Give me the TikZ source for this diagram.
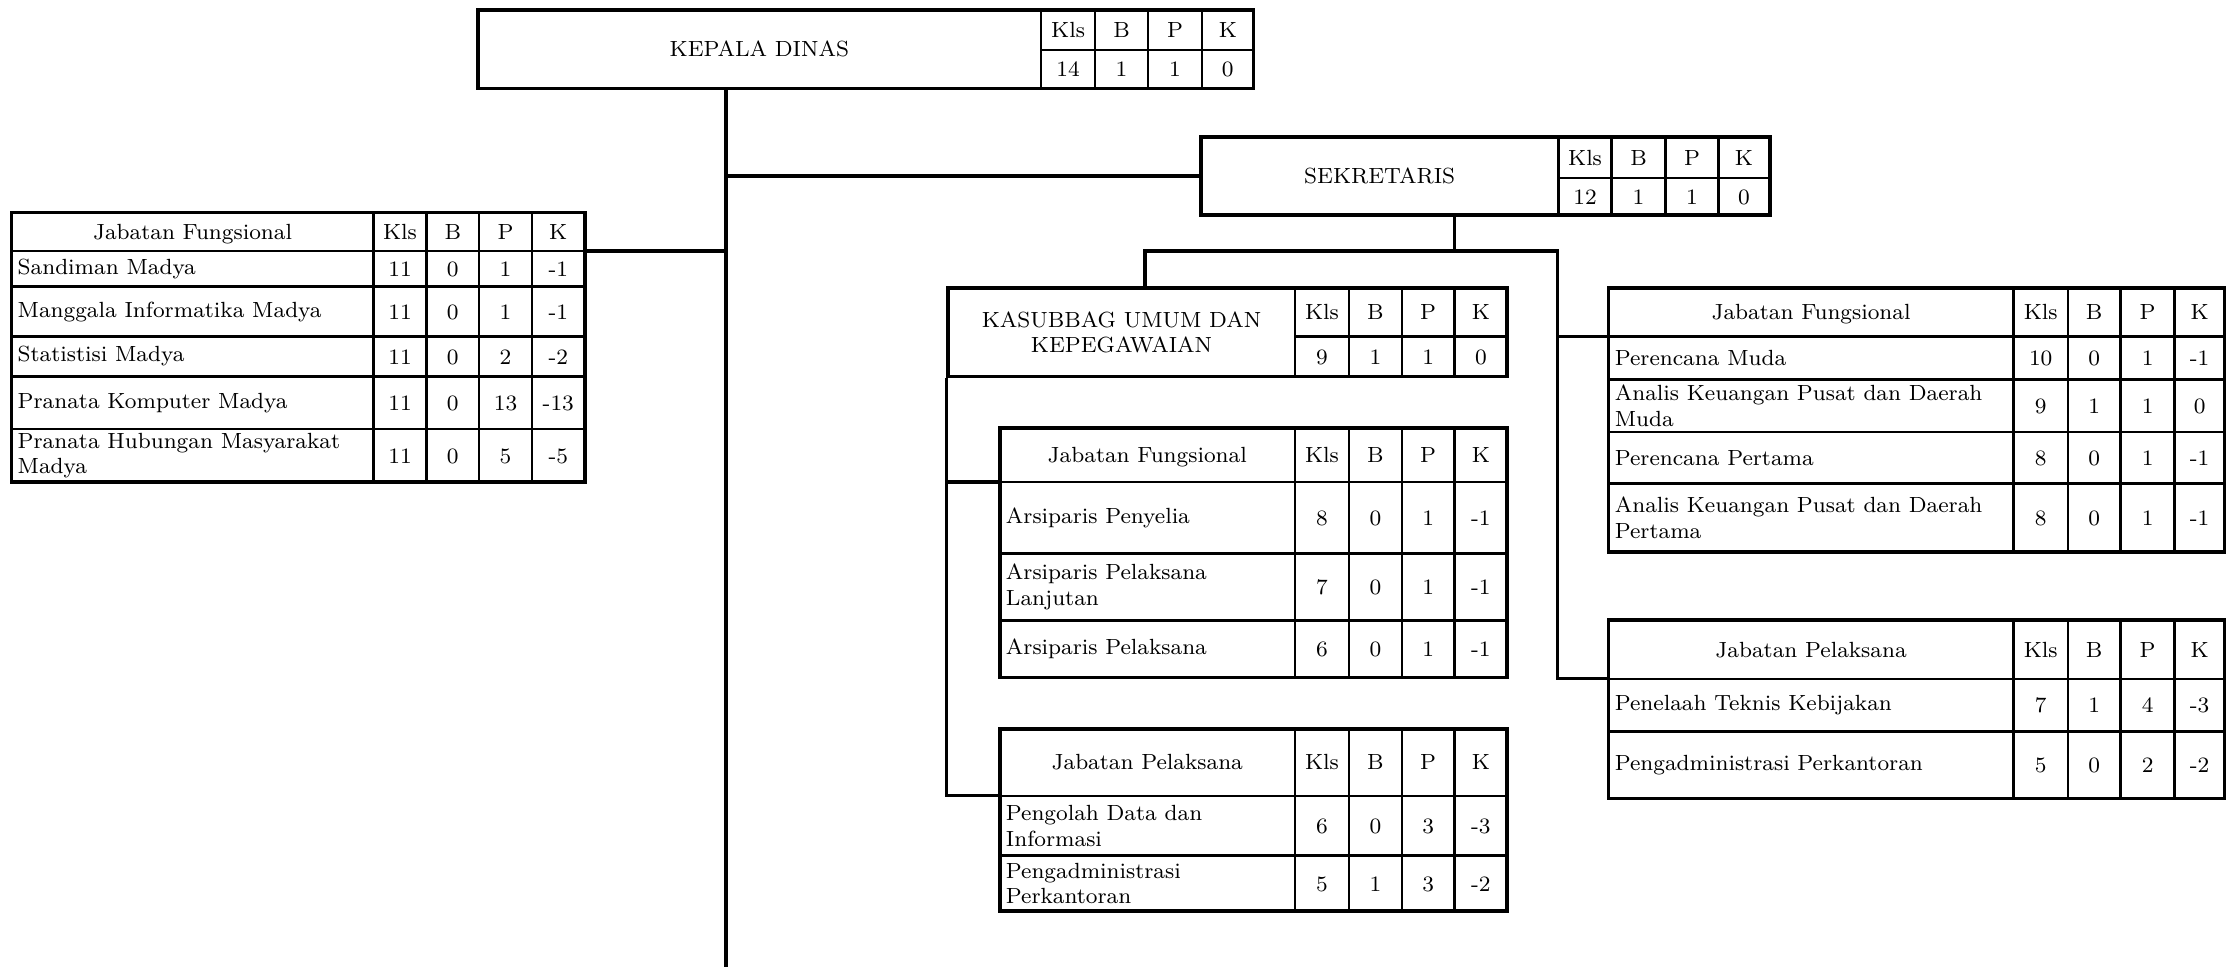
\documentclass[tikz,border=0pt]{standalone}
\usepackage{tikz}
\usetikzlibrary{fit}

\tikzset{
  cell/.style={draw=black, line width=0.85pt},
  frame/.style={draw=black, line width=1.3pt, inner sep=0pt},
  conn/.style={draw=black, line width=1.2pt, line join=miter},
  lbl/.style={anchor=west, align=left, inner sep=2pt},
  num/.style={inner sep=0pt, text height=1.55ex, text depth=0.3ex},
}

\newcommand{\setcols}[6]{\def\xa{#1}\def\xb{#2}\def\xc{#3}\def\xd{#4}\def\xe{#5}\def\xf{#6}}

\newcommand{\hrow}[4]{%
  \draw[cell] (\xa,#2) rectangle (\xb,#3) node[pos=.5, num] (#1-t) {#4};
  \draw[cell] (\xb,#2) rectangle (\xc,#3) node[pos=.5, num] (#1-hkls) {Kls};
  \draw[cell] (\xc,#2) rectangle (\xd,#3) node[pos=.5, num] (#1-hb) {B};
  \draw[cell] (\xd,#2) rectangle (\xe,#3) node[pos=.5, num] (#1-hp) {P};
  \draw[cell] (\xe,#2) rectangle (\xf,#3) node[pos=.5, num] (#1-hk) {K};
}

\newcommand{\jrow}[8]{%
  \draw[cell] (\xa,#2) rectangle (\xb,#3);
  \node[lbl] (#1-l) at (\xa,{(#2+#3)/2}) {#4};
  \draw[cell] (\xb,#2) rectangle (\xc,#3) node[pos=.5, num] (#1-kls) {#5};
  \draw[cell] (\xc,#2) rectangle (\xd,#3) node[pos=.5, num] (#1-b) {#6};
  \draw[cell] (\xd,#2) rectangle (\xe,#3) node[pos=.5, num] (#1-p) {#7};
  \draw[cell] (\xe,#2) rectangle (\xf,#3) node[pos=.5, num] (#1-k) {#8};
}

\newcommand{\jbox}[9]{%
  \draw[cell] (\xa,#2) rectangle (\xb,#4) node[pos=.5, align=center] (#1-t) {#5};
  \draw[cell] (\xb,#2) rectangle (\xc,#3) node[pos=.5, num] (#1-hkls) {Kls};
  \draw[cell] (\xc,#2) rectangle (\xd,#3) node[pos=.5, num] (#1-hb) {B};
  \draw[cell] (\xd,#2) rectangle (\xe,#3) node[pos=.5, num] (#1-hp) {P};
  \draw[cell] (\xe,#2) rectangle (\xf,#3) node[pos=.5, num] (#1-hk) {K};
  \draw[cell] (\xb,#3) rectangle (\xc,#4) node[pos=.5, num] (#1-kls) {#6};
  \draw[cell] (\xc,#3) rectangle (\xd,#4) node[pos=.5, num] (#1-b) {#7};
  \draw[cell] (\xd,#3) rectangle (\xe,#4) node[pos=.5, num] (#1-p) {#8};
  \draw[cell] (\xe,#3) rectangle (\xf,#4) node[pos=.5, num] (#1-k) {#9};
  \node[frame, fit={(\xa,#2) (\xf,#4)}] (#1) {};
}

\newcommand{\jframe}[3]{\node[frame, fit={(\xa,#2) (\xf,#3)}] (#1) {};}

\begin{document}
\begin{tikzpicture}[x=0.5pt, y=-0.5pt, every node/.style={font=\fontsize{7.7}{9}\selectfont}]
    \useasboundingbox (0,0) rectangle (1568,678);

    % kepala dinas
    \setcols{335}{730}{768}{805}{843}{879}
    \jbox{kd}{7}{35}{62}{KEPALA DINAS}{14}{1}{1}{0}

    % sekretaris
    \setcols{842}{1093}{1130}{1168}{1205}{1241}
    \jbox{sek}{96}{125}{151}{SEKRETARIS}{12}{1}{1}{0}

    % kasubbag
    \setcols{665}{908}{946}{983}{1020}{1057}
    \jbox{ksb}{202}{236}{264}{KASUBBAG UMUM DAN\\KEPEGAWAIAN}{9}{1}{1}{0}

    % fungsional kepala dinas
    \setcols{8}{262}{299}{336}{373}{410}
    \hrow{jfl}{149}{176}{Jabatan Fungsional}
    \jrow{jfl1}{176}{201}{Sandiman Madya}{11}{0}{1}{-1}
    \jrow{jfl2}{201}{236}{Manggala Informatika Madya}{11}{0}{1}{-1}
    \jrow{jfl3}{236}{264}{Statistisi Madya}{11}{0}{2}{-2}
    \jrow{jfl4}{264}{301}{Pranata Komputer Madya}{11}{0}{13}{-13}
    \jrow{jfl5}{301}{338}{Pranata Hubungan Masyarakat\\Madya}{11}{0}{5}{-5}
    \jframe{jfl}{149}{338}
    \coordinate (jfl-j) at (410,176);

    % fungsional kasubbag
    \setcols{701}{908}{946}{983}{1020}{1057}
    \hrow{jfk}{300}{338}{Jabatan Fungsional}
    \jrow{jfk1}{338}{388}{Arsiparis Penyelia}{8}{0}{1}{-1}
    \jrow{jfk2}{388}{435}{Arsiparis Pelaksana\\Lanjutan}{7}{0}{1}{-1}
    \jrow{jfk3}{435}{475}{Arsiparis Pelaksana}{6}{0}{1}{-1}
    \jframe{jfk}{300}{475}
    \coordinate (jfk-j) at (701,338);

    % pelaksana kasubbag
    \hrow{jpk}{511}{558}{Jabatan Pelaksana}
    \jrow{jpk1}{558}{600}{Pengolah Data dan\\Informasi}{6}{0}{3}{-3}
    \jrow{jpk2}{600}{639}{Pengadministrasi\\Perkantoran}{5}{1}{3}{-2}
    \jframe{jpk}{511}{639}
    \coordinate (jpk-j) at (701,558);

    % fungsional sekretaris
    \setcols{1128}{1412}{1450}{1487}{1525}{1560}
    \hrow{jfr}{202}{236}{Jabatan Fungsional}
    \jrow{jfr1}{236}{266}{Perencana Muda}{10}{0}{1}{-1}
    \jrow{jfr2}{266}{303}{Analis Keuangan Pusat dan Daerah\\Muda}{9}{1}{1}{0}
    \jrow{jfr3}{303}{339}{Perencana Pertama}{8}{0}{1}{-1}
    \jrow{jfr4}{339}{387}{Analis Keuangan Pusat dan Daerah\\Pertama}{8}{0}{1}{-1}
    \jframe{jfr}{202}{387}
    \coordinate (jfr-j) at (1128,236);

    % pelaksana sekretaris
    \hrow{jpr}{435}{476}{Jabatan Pelaksana}
    \jrow{jpr1}{476}{513}{Penelaah Teknis Kebijakan}{7}{1}{4}{-3}
    \jrow{jpr2}{513}{560}{Pengadministrasi Perkantoran}{5}{0}{2}{-2}
    \jframe{jpr}{435}{560}
    \coordinate (jpr-j) at (1128,476);

    % garis
    \coordinate (trunk) at (509,678);
    \coordinate (sek-j) at (1020,176);
    \coordinate (bl) at (803,176);
    \coordinate (br) at (1092,176);
    \draw[conn] (kd.south -| trunk) -- (trunk);
    \draw[conn] (trunk |- sek.west) -- (sek.west);
    \draw[conn] (jfl-j) -- (jfl-j -| trunk);
    \draw[conn] (sek.south -| sek-j) -- (sek-j);
    \draw[conn] (ksb.north -| bl) -- (bl) -- (br) |- (jpr-j);
    \draw[conn] (br |- jfr-j) -- (jfr-j);
    \draw[conn] (ksb.south west) |- (jpk-j);
    \draw[conn] (ksb.south west |- jfk-j) -- (jfk-j);
\end{tikzpicture}
\end{document}
